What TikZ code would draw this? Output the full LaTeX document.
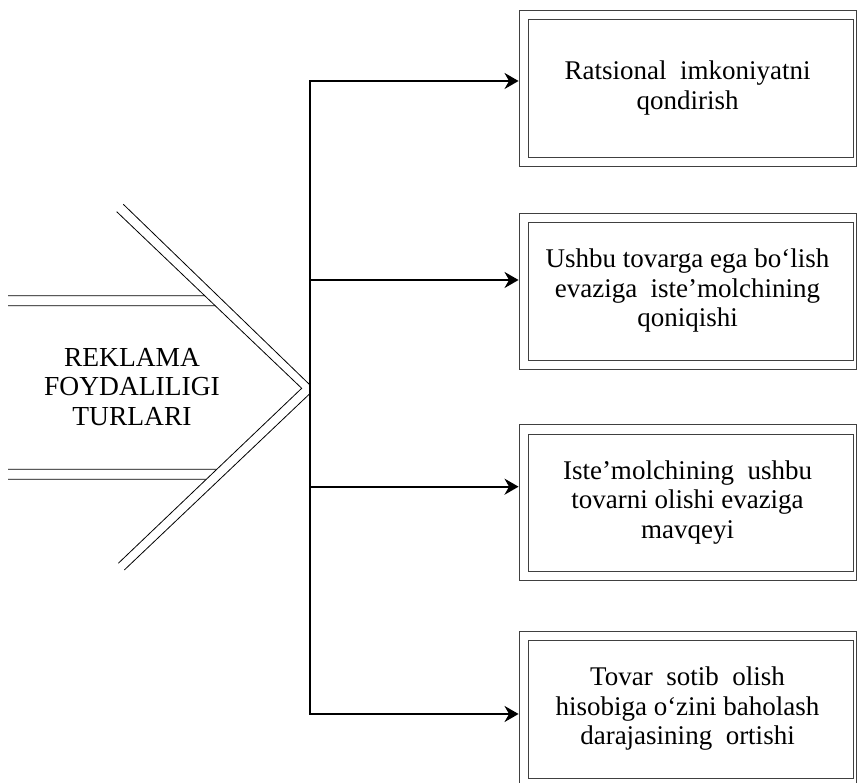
\documentclass[tikz,border=0pt]{standalone}
\usepackage{fontspec}
\setmainfont{Liberation Serif}
\usetikzlibrary{arrows.meta}
\definecolor{framegray}{RGB}{64,64,64}

\begin{document}
\begin{tikzpicture}[x=1pt, y=1pt,
        caixa/.style={draw=framegray, line width=0.9pt, rectangle, minimum width=337pt, minimum height=156pt, inner sep=0pt, align=center, font=\fontsize{27}{29.5}\selectfont},
        seta/.style={-{Stealth[length=14pt, width=16pt, inset=4.5pt]}, line width=2pt},
        dupla/.style={line width=0.8pt}]
        \useasboundingbox (0,0) rectangle (857,783);
        % caixas da direita
        \node[caixa] (rac) at (687.5,695) {Ratsional\ \ imkoniyatni\\qondirish};
        \node[caixa] (qon) at (687.5,492) {Ushbu tovarga ega bo‘lish\\evaziga\ \ iste’molchining\\qoniqishi};
        \node[caixa] (mav) at (687.5,280.5) {Iste’molchining\ \ ushbu\\tovarni olishi evaziga\\mavqeyi};
        \node[caixa] (baho) at (687.5,74) {Tovar\ \ sotib\ \ olish\\hisobiga o‘zini baholash\\darajasining\ \ ortishi};
        \foreach \b in {rac,qon,mav,baho}
            \draw[framegray, line width=0.9pt] ([shift={(10,-10)}]\b.north west) rectangle ([shift={(-3,9)}]\b.south east);
        % seta dupla
        \node[align=center, font=\fontsize{27.5}{29.5}\selectfont] (titulo) at (132,396) {REKLAMA\\FOYDALILIGI\\TURLARI};
        \coordinate (ou) at (123.3,578.7);
        \coordinate (iu) at (116.7,571.3);
        \coordinate (ponta) at (301.7,394.7);
        \coordinate (il) at (118.3,219.7);
        \coordinate (ol) at (124.3,213);
        \coordinate (b1) at (309.5,702);
        \coordinate (b2) at (309.5,503);
        \coordinate (b3) at (309.5,296.3);
        \coordinate (b4) at (309.5,69);
        \draw[dupla] (ou) -- (309.5,398.5);
        \draw[dupla] (ol) -- (309.5,389);
        \draw[dupla] (iu) -- (ponta) -- (il);
        \coordinate (h1) at (8,487.3);
        \coordinate (h2) at (8,477.3);
        \coordinate (h3) at (8,313.7);
        \coordinate (h4) at (8,303.7);
        \draw[dupla] (h1) -- (intersection of h1--{300,487.3} and iu--ponta);
        \draw[dupla] (h2) -- (intersection of h2--{300,477.3} and iu--ponta);
        \draw[dupla] (h3) -- (intersection of h3--{300,313.7} and ponta--il);
        \draw[dupla] (h4) -- (intersection of h4--{300,303.7} and ponta--il);
        % barramento e setas
        \draw[line width=2pt, line cap=rect] (b1) -- (b4);
        \draw[seta] (b1) -- (b1 -| rac.west);
        \draw[seta] (b2) -- (b2 -| qon.west);
        \draw[seta] (b3) -- (b3 -| mav.west);
        \draw[seta] (b4) -- (b4 -| baho.west);
    \end{tikzpicture}
\end{document}
